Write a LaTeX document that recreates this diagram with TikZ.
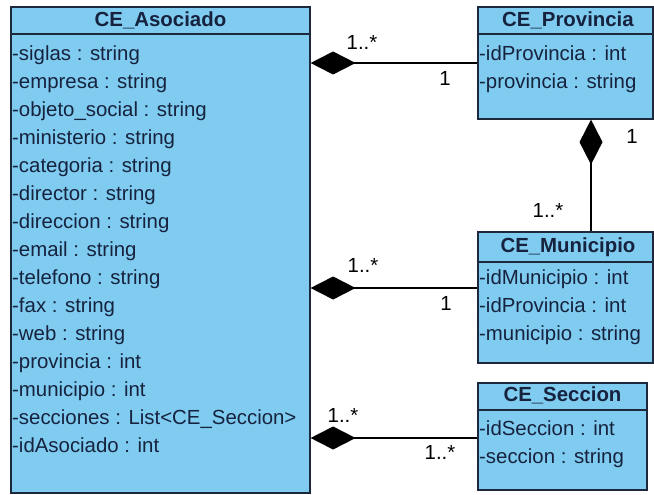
\documentclass[tikz,border=0pt]{standalone}
\usepackage{fontspec}
\setmainfont{Liberation Sans}
\usetikzlibrary{arrows.meta}
\definecolor{classfill}{RGB}{127,204,240}
\definecolor{classline}{RGB}{30,40,60}
\definecolor{classtext}{RGB}{22,34,62}
\begin{document}
\begin{tikzpicture}[x=1pt,y=-1pt,
  classbox/.style={draw=classline,line width=1.2pt,fill=classfill,rectangle,inner sep=0pt},
  title/.style={font=\fontsize{20.4}{22}\selectfont\bfseries,text=classtext,inner sep=0pt,text height=14.5pt,text depth=4pt},
  attr/.style={font=\fontsize{20.4}{22}\selectfont,text=classtext,anchor=west,inner sep=0pt,text height=14.5pt,text depth=4pt},
  mult/.style={font=\fontsize{20.4}{22}\selectfont,text=black,inner sep=0pt},
  comp/.style={line width=1.3pt,draw=black,-{Diamond[length=45pt,width=23pt,fill=black]}}]
\useasboundingbox (0,0) rectangle (654,495);

% CE_Asociado
\node[classbox,minimum width=299pt,minimum height=486pt] (aso) at (160.5,250) {};
\draw[classline,line width=1.2pt] (11,34) -- (310,34);
\node[title] (asoT) at (160.5,21) {CE\_Asociado};
\foreach \t [count=\i from 0] in {siglas : string,empresa : string,objeto\_social : string,ministerio : string,categoria : string,director : string,direccion : string,email : string,telefono : string,fax : string,web : string,provincia : int,municipio : int,secciones : List<CE\_Seccion>,idAsociado : int}
  \node[attr] (asoA\i) at (12,55+28*\i) {-\t};

% CE_Provincia
\node[classbox,minimum width=175pt,minimum height=112pt] (prov) at (565.5,63) {};
\draw[classline,line width=1.2pt] (478,34) -- (653,34);
\node[title] (provT) at (568,21) {CE\_Provincia};
\node[attr] (provA0) at (479,55) {-idProvincia : int};
\node[attr] (provA1) at (479,83) {-provincia : string};

% CE_Municipio
\node[classbox,minimum width=175pt,minimum height=131pt] (mun) at (565.5,297.5) {};
\draw[classline,line width=1.2pt] (478,262) -- (653,262);
\node[title] (munT) at (568,247) {CE\_Municipio};
\node[attr] (munA0) at (479,279) {-idMunicipio : int};
\node[attr] (munA1) at (479,307) {-idProvincia : int};
\node[attr] (munA2) at (479,335) {-municipio : string};

% CE_Seccion
\node[classbox,minimum width=169pt,minimum height=107pt] (sec) at (562.5,436.5) {};
\draw[classline,line width=1.2pt] (478,410) -- (647,410);
\node[title] (secT) at (562.5,396) {CE\_Seccion};
\node[attr] (secA0) at (479,430) {-idSeccion : int};
\node[attr] (secA1) at (479,458) {-seccion : string};

% compositions
\draw[comp] (prov.west |- 0,63) -- (aso.east |- 0,63);
\draw[comp] (mun.north -| 591,0) -- (prov.south -| 591,0);
\draw[comp] (mun.west |- 0,288) -- (aso.east |- 0,288);
\draw[comp] (sec.west |- 0,438) -- (aso.east |- 0,438);

% multiplicities
\node[mult] (m1a) at (362,42) {1..*};
\node[mult] (m1b) at (445,78) {1};
\node[mult] (m2a) at (632,136) {1};
\node[mult] (m2b) at (548,210) {1..*};
\node[mult] (m3a) at (363,265) {1..*};
\node[mult] (m3b) at (446,303) {1};
\node[mult] (m4a) at (343,415) {1..*};
\node[mult] (m4b) at (440,452) {1..*};
\end{tikzpicture}
\end{document}
